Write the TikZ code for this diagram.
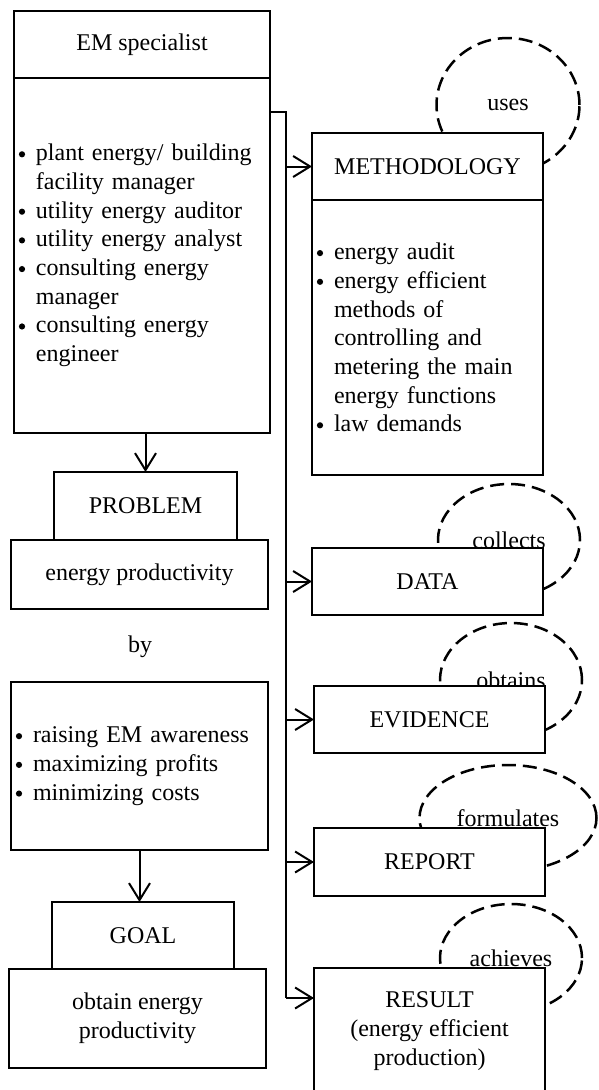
\documentclass[tikz,border=0pt]{standalone}
\usepackage{fontspec}
\setmainfont{Liberation Serif}
\usetikzlibrary{arrows.meta,shapes.geometric}
\newcommand\mybul{\makebox[20pt][l]{\tikz[baseline=0pt]{\path (0pt,0pt); \fill (6pt,6.5pt) circle (3.1pt);}}}
\newcommand\myind{\hspace*{20pt}}
\begin{document}
\begin{tikzpicture}[x=1pt,y=-1pt,
  every node/.style={font=\fontsize{24}{28.7}\selectfont},
  box/.style={draw, line width=2.6pt, fill=white, inner sep=0pt, outer sep=0pt, anchor=north west, align=center},
  listbox/.style={box, align=left, inner xsep=2pt},
  loopel/.style={ellipse, draw, dash pattern=on 14pt off 7pt, line width=2.5pt, inner sep=0pt, outer sep=0pt},
  arr/.style={line width=2pt, -{Straight Barb[length=17pt,width=21pt]}},
  busline/.style={line width=1.4pt}]
\useasboundingbox (0,0) rectangle (598,1090);
\fill[white] (0,0) rectangle (598,1090);

% dashed loops (drawn first, boxes overlay them)
\node[loopel, minimum width=143, minimum height=134] (uses) at (508,105) {uses};
\node[loopel, minimum width=142, minimum height=112] (collects) at (509,540) {collects};
\node[loopel, minimum width=142, minimum height=114] (obtains) at (511,680) {obtains};
\node[loopel, minimum width=177, minimum height=106] (formulates) at (508,818) {formulates};
\node[loopel, minimum width=142, minimum height=108] (achieves) at (511,958) {achieves};

% left column
\node[box, minimum width=256, minimum height=67] (emh) at (14,11) {EM specialist};
\node[listbox, minimum width=256, minimum height=355, text width=252pt] (emb) at (14,78)
  {\mybul plant energy/ building\\ \myind facility manager\\
   \mybul utility energy auditor\\ \mybul utility energy analyst\\
   \mybul consulting energy\\ \myind manager\\
   \mybul consulting energy\\ \myind engineer};
\node[box, minimum width=183, minimum height=68] (problem) at (54,472) {PROBLEM};
\node[box, minimum width=257, minimum height=69] (prod) at (11,540) {energy productivity};
\node (by) at (140,647) {by};
\node[listbox, minimum width=257, minimum height=168, text width=253pt] (ways) at (11,682)
  {\mybul raising EM awareness\\ \mybul maximizing profits\\ \mybul minimizing costs};
\node[box, minimum width=182, minimum height=67] (goalh) at (52,902) {GOAL};
\node[box, minimum width=257, minimum height=99] (goalb) at (9,969) {obtain energy\\productivity};

% right column
\node[box, minimum width=231, minimum height=67] (methh) at (312,133) {METHODOLOGY};
\node[listbox, minimum width=231, minimum height=275, text width=227pt] (methb) at (312,200)
  {\mybul energy audit\\ \mybul energy efficient\\ \myind methods of\\
   \myind controlling and\\ \myind metering the main\\ \myind energy functions\\
   \mybul law demands};
\node[box, minimum width=231, minimum height=67] (data) at (312,548) {DATA};
\node[box, minimum width=231, minimum height=67] (evidence) at (314,686) {EVIDENCE};
\node[box, minimum width=231, minimum height=68] (report) at (314,828) {REPORT};
\node[box, minimum width=231, minimum height=126] (result) at (314,968)
  {RESULT\\(energy efficient\\production)};

% connectors
\coordinate (bus) at (286,112);
\coordinate (resin) at ([yshift=-30pt]result.north west);
\draw[busline] (emb.east |- bus) -- (bus) -- (bus |- resin);
\draw[arr] (bus |- resin) -- (resin);
\draw[arr] (bus |- methh.west) -- (methh.west);
\draw[arr] (bus |- data.west) -- (data.west);
\draw[arr] (bus |- evidence.west) -- (evidence.west);
\draw[arr] (bus |- report.west) -- (report.west);
\draw[arr] (emb.south -| problem.north) -- (problem.north);
\draw[arr] (ways.south) -- (ways.south |- goalh.north);
\end{tikzpicture}
\end{document}
